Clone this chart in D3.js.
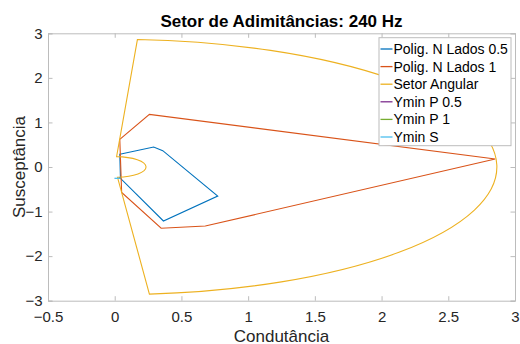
<!DOCTYPE html>
<html>
<head>
<meta charset="utf-8">
<script src="https://cdn.jsdelivr.net/npm/d3@7"></script>
<style>
  html, body { margin: 0; padding: 0; background: #fff; }
  svg { display: block; font-family: "Liberation Sans", Arial, sans-serif; }
</style>
</head>
<body>
<svg id="chart" width="520" height="344"></svg>
<script>
// Admittance sector at 240 Hz (conductance G vs susceptance B)
const xTicks = [-0.5, 0, 0.5, 1, 1.5, 2, 2.5, 3];
const yTicks = [-3, -2, -1, 0, 1, 2, 3];

// N-sided polygon, 0.5 (G, B)
const poly05G = [0.038, 0.292, 0.360, 0.772, 0.365, 0.043];
const poly05B = [0.285, 0.449, 0.366, -0.651, -1.212, -0.254];

// N-sided polygon, 1 (G, B)
const poly1G = [0.038, 0.260, 2.852, 0.679, 0.348, 0.052];
const poly1B = [0.621, 1.180, 0.180, -1.325, -1.375, -0.570];

// Angular sector: inner/outer radius and bounding angles (degrees from +B axis, clockwise)
const sectorInner = 0.232;
const sectorOuter = 2.865;
const sectorStartDeg = 3.4;
const sectorEndDeg = 174.8;

// Minimum admittance marks (G pairs, B pairs)
const yminP05G = [0.030, 0.043];
const yminP05B = [-0.252, -0.254];
const yminP1G = [0.032, 0.045];
const yminP1B = [-0.252, -0.254];
const yminSG = [-0.002, 0.043];
const yminSB = [-0.254, -0.254];

const legendLabels = ["Polig. N Lados 0.5", "Polig. N Lados 1", "Setor Angular",
                      "Ymin P 0.5", "Ymin P 1", "Ymin S"];
const colors = ["#0072BD", "#D95319", "#EDB120", "#7E2F8E", "#77AC30", "#4DBEEE"];

const svg = d3.select("#chart");
const L = 48, R = 515, T = 33.3, B = 300.7;

const x = d3.scaleLinear().domain([-0.5, 3]).range([L, R]);
const y = d3.scaleLinear().domain([-3, 3]).range([B, T]);

const axisColor = "#bcbcbc";
const textColor = "#262626";

// Axes (ticks pointing inward, box on)
const gx = svg.append("g").attr("transform", `translate(0,${B})`)
  .call(d3.axisBottom(x).tickValues(xTicks).tickFormat(d3.format("")).tickSize(-4.5).tickPadding(11));
const gxTop = svg.append("g").attr("transform", `translate(0,${T})`)
  .call(d3.axisTop(x).tickValues(xTicks).tickFormat("").tickSize(-4.5));
const gy = svg.append("g").attr("transform", `translate(${L},0)`)
  .call(d3.axisLeft(y).tickValues(yTicks).tickFormat(d3.format("")).tickSize(-4.5).tickPadding(5.5));
const gyRight = svg.append("g").attr("transform", `translate(${R},0)`)
  .call(d3.axisRight(y).tickValues(yTicks).tickFormat("").tickSize(-4.5));

[gx, gxTop, gy, gyRight].forEach(g => {
  g.select(".domain").attr("stroke", axisColor);
  g.selectAll(".tick line").attr("stroke", axisColor);
  g.selectAll(".tick text").attr("fill", textColor)
    .style("font-family", "'Liberation Sans', Arial, sans-serif").style("font-size", "15px");
});

const plot = svg.append("g");

const line = d3.line().x(d => x(d[0])).y(d => y(d[1]));
const zip = (a, b) => a.map((v, i) => [v, b[i]]);

// Polygons
plot.append("path")
  .attr("d", line(zip(poly05G, poly05B)) + "Z")
  .attr("fill", "none").attr("stroke", colors[0]).attr("stroke-width", 1.1);
plot.append("path")
  .attr("d", line(zip(poly1G, poly1B)) + "Z")
  .attr("fill", "none").attr("stroke", colors[1]).attr("stroke-width", 1.1);

// Angular sector drawn in data units, then mapped to pixels by the scales
const sx = x(1) - x(0), sy = y(0) - y(1);
const arcGen = d3.arc()
  .innerRadius(sectorInner).outerRadius(sectorOuter)
  .startAngle(sectorStartDeg * Math.PI / 180).endAngle(sectorEndDeg * Math.PI / 180);
plot.append("path")
  .attr("transform", `translate(${x(0)},${y(0)}) scale(${sx},${sy})`)
  .attr("d", arcGen())
  .attr("fill", "none").attr("stroke", colors[2]).attr("stroke-width", 1.1)
  .attr("vector-effect", "non-scaling-stroke");

// Minimum admittance marks
[[yminP05G, yminP05B, colors[3]], [yminP1G, yminP1B, colors[4]], [yminSG, yminSB, colors[5]]]
  .forEach(([g, b, c]) => {
    plot.append("path").attr("d", line(zip(g, b)))
      .attr("fill", "none").attr("stroke", c).attr("stroke-width", 1.3);
  });

// Title and axis labels
svg.append("text").attr("x", (L + R) / 2).attr("y", 26.5).attr("text-anchor", "middle")
  .attr("font-size", 17).attr("font-weight", "bold").attr("fill", "#000")
  .text("Setor de Adimitâncias: 240 Hz");
svg.append("text").attr("x", (L + R) / 2).attr("y", 341.5).attr("text-anchor", "middle")
  .attr("font-size", 17).attr("fill", textColor).text("Condutância");
svg.append("text").attr("transform", `translate(24.5,${(T + B) / 2}) rotate(-90)`)
  .attr("text-anchor", "middle").attr("font-size", 17).attr("fill", textColor).text("Susceptância");

// Legend
const lg = svg.append("g");
const lgX = 379, lgY = 37.7, lgW = 132, lgH = 108, rowH = 17.6;
lg.append("rect").attr("x", lgX).attr("y", lgY).attr("width", lgW).attr("height", lgH)
  .attr("fill", "#fff").attr("stroke", axisColor).attr("stroke-width", 1);
legendLabels.forEach((lab, i) => {
  const cy = lgY + 11.3 + i * rowH;
  lg.append("line").attr("x1", lgX + 1.5).attr("x2", lgX + 13.5).attr("y1", cy).attr("y2", cy)
    .attr("stroke", colors[i]).attr("stroke-width", 1.3);
  lg.append("text").attr("x", lgX + 14.5).attr("y", cy).attr("dy", "0.36em")
    .attr("font-size", 14).attr("fill", "#000").text(lab);
});
</script>
</body>
</html>
